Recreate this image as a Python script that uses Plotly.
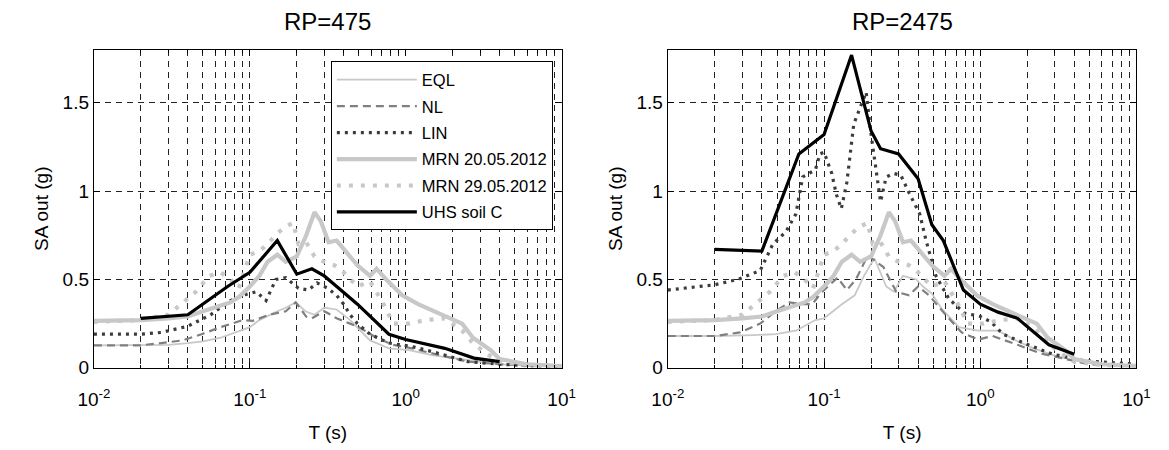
import plotly.graph_objects as go

# ---------------- data ----------------
# Recorded spectra (same in both panels)
mrn20_T = [0.01, 0.02, 0.03, 0.04, 0.05, 0.065, 0.075, 0.085, 0.1, 0.115, 0.13, 0.15, 0.17, 0.2, 0.23,
           0.26, 0.285, 0.32, 0.36, 0.42, 0.49, 0.59, 0.65, 0.75, 0.95, 1.2, 1.7, 2.3, 2.7, 3.5, 4.0, 6, 10]
mrn20_SA = [0.265, 0.27, 0.28, 0.29, 0.32, 0.35, 0.37, 0.40, 0.46, 0.52, 0.60, 0.64, 0.60, 0.63, 0.75,
            0.88, 0.83, 0.71, 0.72, 0.65, 0.58, 0.52, 0.56, 0.50, 0.41, 0.36, 0.30, 0.25, 0.17, 0.10, 0.05, 0.02, 0.01]

mrn29_T = [0.01, 0.02, 0.03, 0.035, 0.045, 0.055, 0.065, 0.075, 0.085, 0.1, 0.115, 0.13, 0.15, 0.17, 0.19,
           0.205, 0.23, 0.26, 0.3, 0.35, 0.4, 0.49, 0.59, 0.72, 0.83, 1.05, 1.33, 1.78, 2.3, 2.7, 3.3, 4.0, 6, 10]
mrn29_SA = [0.26, 0.27, 0.30, 0.35, 0.43, 0.52, 0.54, 0.50, 0.45, 0.64, 0.66, 0.70, 0.76, 0.80, 0.82,
            0.70, 0.71, 0.63, 0.60, 0.58, 0.54, 0.46, 0.49, 0.36, 0.25, 0.25, 0.27, 0.28, 0.21, 0.14, 0.08, 0.035, 0.015, 0.01]

# RP = 475
eql475_T = [0.01, 0.02, 0.03, 0.04, 0.05, 0.065, 0.08, 0.1, 0.115, 0.133, 0.15, 0.17, 0.197, 0.227,
            0.26, 0.3, 0.36, 0.44, 0.5, 0.59, 0.78, 1.05, 1.5, 2.5, 4.0, 6, 10]
eql475_SA = [0.127, 0.127, 0.13, 0.14, 0.15, 0.17, 0.20, 0.23, 0.27, 0.30, 0.32, 0.34, 0.37, 0.32,
             0.30, 0.34, 0.33, 0.27, 0.22, 0.155, 0.11, 0.10, 0.07, 0.045, 0.02, 0.012, 0.008]

nl475_T = [0.01, 0.02, 0.027, 0.037, 0.049, 0.065, 0.09, 0.104, 0.133, 0.17, 0.197, 0.23, 0.25, 0.3,
           0.33, 0.36, 0.44, 0.5, 0.65, 0.83, 1.1, 1.5, 2.5, 4, 6, 10]
nl475_SA = [0.127, 0.127, 0.14, 0.155, 0.19, 0.23, 0.27, 0.265, 0.30, 0.32, 0.37, 0.29, 0.28, 0.32,
            0.30, 0.28, 0.25, 0.23, 0.17, 0.13, 0.11, 0.08, 0.035, 0.02, 0.012, 0.008]

lin475_T = [0.01, 0.02, 0.027, 0.04, 0.056, 0.075, 0.09, 0.11, 0.127, 0.147, 0.17, 0.205, 0.237, 0.27,
            0.316, 0.36, 0.4, 0.44, 0.49, 0.59, 0.78, 1.1, 1.5, 2.5, 4, 6, 10]
lin475_SA = [0.19, 0.19, 0.2, 0.235, 0.30, 0.38, 0.41, 0.43, 0.38, 0.50, 0.51, 0.45, 0.44, 0.48,
             0.45, 0.41, 0.36, 0.30, 0.25, 0.19, 0.14, 0.12, 0.09, 0.035, 0.02, 0.012, 0.008]

uhs475_T = [0.02, 0.04, 0.072, 0.1, 0.15, 0.2, 0.25, 0.3, 0.35, 0.49, 0.78, 1.0, 1.78, 2.74, 4.0]
uhs475_SA = [0.28, 0.30, 0.46, 0.54, 0.72, 0.53, 0.56, 0.52, 0.47, 0.36, 0.19, 0.16, 0.11, 0.055, 0.035]

# RP = 2475
eql2475_T = [0.01, 0.02, 0.035, 0.049, 0.066, 0.079, 0.088, 0.1, 0.13, 0.157, 0.18, 0.21, 0.25, 0.28,
             0.32, 0.39, 0.43, 0.49, 0.57, 0.73, 0.97, 1.3, 1.73, 2.2, 3.1, 4.1, 6, 10]
eql2475_SA = [0.18, 0.18, 0.185, 0.19, 0.21, 0.25, 0.27, 0.28, 0.36, 0.41, 0.52, 0.62, 0.46, 0.43,
              0.52, 0.50, 0.46, 0.42, 0.33, 0.23, 0.21, 0.21, 0.15, 0.11, 0.065, 0.04, 0.02, 0.01]

nl2475_T = [0.01, 0.02, 0.029, 0.039, 0.049, 0.06, 0.073, 0.084, 0.097, 0.122, 0.14, 0.16, 0.19, 0.24,
            0.29, 0.35, 0.40, 0.47, 0.6, 0.76, 0.97, 1.2, 1.73, 2.4, 3.5, 5, 10]
nl2475_SA = [0.18, 0.18, 0.20, 0.25, 0.32, 0.37, 0.36, 0.36, 0.43, 0.51, 0.44, 0.50, 0.635, 0.57,
             0.43, 0.41, 0.46, 0.41, 0.30, 0.20, 0.16, 0.18, 0.13, 0.083, 0.05, 0.02, 0.01]

lin2475_T = [0.01, 0.02, 0.028, 0.039, 0.047, 0.057, 0.066, 0.073, 0.088, 0.094, 0.1, 0.112, 0.12, 0.129,
             0.14, 0.155, 0.186, 0.2, 0.23, 0.25, 0.28, 0.31, 0.35, 0.41, 0.45, 0.52, 0.63, 0.79, 1.0,
             1.17, 1.4, 1.9, 2.9, 4.6, 10]
lin2475_SA = [0.44, 0.47, 0.50, 0.55, 0.70, 0.77, 0.87, 1.08, 1.12, 1.21, 1.22, 1.10, 0.98, 0.90,
              1.05, 1.38, 1.56, 1.32, 0.94, 1.08, 1.10, 1.09, 0.99, 0.87, 0.72, 0.52, 0.39, 0.31, 0.29,
              0.26, 0.19, 0.14, 0.077, 0.04, 0.02]

uhs2475_T = [0.02, 0.04, 0.069, 0.1, 0.15, 0.2, 0.23, 0.3, 0.4, 0.49, 0.58, 0.78, 1.0, 1.3, 1.73, 2.75, 4.0]
uhs2475_SA = [0.67, 0.66, 1.21, 1.32, 1.77, 1.34, 1.24, 1.21, 1.07, 0.81, 0.72, 0.44, 0.36, 0.315, 0.28, 0.13, 0.077]

panel_titles = ["RP=475", "RP=2475"]
series_names = ["EQL", "NL", "LIN", "MRN 20.05.2012", "MRN 29.05.2012", "UHS soil C"]
x_major = [0.01, 0.1, 1, 10]
x_major_text = ["10<sup>-2</sup>", "10<sup>-1</sup>", "10<sup>0</sup>", "10<sup>1</sup>"]
x_minor = [m * d for d in (0.01, 0.1, 1) for m in range(2, 10)]
y_ticks = [0, 0.5, 1, 1.5]
y_tick_text = ["0", "0.5", "1", "1.5"]

# ---------------- styles ----------------
FONT = "Liberation Sans, Arial, sans-serif"
styles = [
    dict(color="#c8c8c8", width=1.8, dash="solid"),
    dict(color="#808080", width=2.2, dash="8px,5px"),
    dict(color="#3c3c3c", width=3.2, dash="3px,5px"),
    dict(color="#c8c8c8", width=4.2, dash="solid"),
    dict(color="#c8c8c8", width=4.2, dash="4px,8px"),
    dict(color="#000000", width=3.2, dash="solid"),
]

panels = [
    [(eql475_T, eql475_SA), (nl475_T, nl475_SA), (lin475_T, lin475_SA),
     (mrn20_T, mrn20_SA), (mrn29_T, mrn29_SA), (uhs475_T, uhs475_SA)],
    [(eql2475_T, eql2475_SA), (nl2475_T, nl2475_SA), (lin2475_T, lin2475_SA),
     (mrn20_T, mrn20_SA), (mrn29_T, mrn29_SA), (uhs2475_T, uhs2475_SA)],
]

fig = go.Figure()
for p, data in enumerate(panels):
    xa = "x" if p == 0 else "x2"
    ya = "y" if p == 0 else "y2"
    for s, (T, SA) in enumerate(data):
        fig.add_trace(go.Scatter(
            x=T, y=SA, mode="lines", name=series_names[s],
            line=styles[s], xaxis=xa, yaxis=ya,
            showlegend=(p == 0), legendgroup=series_names[s],
            hoverinfo="skip",
        ))

W, H = 1169, 450
dom_x = [(80 / W, 560 / W), (669 / W, 1150 / W)]
dom_y = ((450 - 377) / H, (450 - 51) / H)

TICK_SIZE = 19
grid_dash = "6px,5px"
def xaxis(dom, anchor):
    return dict(
        domain=list(dom), anchor=anchor, type="log", range=[-2, 1],
        tickmode="array", tickvals=x_major, ticktext=x_major_text,
        ticks="inside", ticklen=6, tickwidth=1, tickcolor="black",
        showline=True, linecolor="black", linewidth=1.3, mirror="allticks",
        showgrid=True, gridcolor="#222", gridwidth=0.6, griddash=grid_dash,
        minor=dict(tickmode="array", tickvals=x_minor, ticks="inside", ticklen=3,
                   tickcolor="black", showgrid=True, gridcolor="#222", gridwidth=0.6,
                   griddash=grid_dash),
        zeroline=False, ticklabelstandoff=14,
        tickfont=dict(family=FONT, size=TICK_SIZE, color="black"),
        title=dict(text="T (s)", font=dict(family=FONT, size=TICK_SIZE, color="black"), standoff=16),
    )

def yaxis(dom, anchor):
    return dict(
        domain=list(dom), anchor=anchor, range=[0, 1.8],
        tickmode="array", tickvals=y_ticks, ticktext=y_tick_text,
        ticks="inside", ticklen=6, tickwidth=1, tickcolor="black",
        showline=True, linecolor="black", linewidth=1.3, mirror="allticks",
        showgrid=True, gridcolor="#222", gridwidth=0.6, griddash=grid_dash,
        zeroline=False,
        tickfont=dict(family=FONT, size=TICK_SIZE, color="black"),
        title=dict(text="SA out (g)", font=dict(family=FONT, size=TICK_SIZE, color="black"), standoff=8),
    )

fig.update_layout(
    width=W, height=H,
    margin=dict(l=0, r=0, t=0, b=0),
    paper_bgcolor="white", plot_bgcolor="white",
    font=dict(family=FONT, color="black"),
    xaxis=xaxis(dom_x[0], "y"), yaxis=yaxis(dom_y, "x"),
    xaxis2=xaxis(dom_x[1], "y2"), yaxis2=yaxis(dom_y, "x2"),
    legend=dict(
        x=551 / W, y=1 - 63 / H, xanchor="right", yanchor="top",
        bgcolor="white", bordercolor="black", borderwidth=1,
        font=dict(family=FONT, size=16.5, color="black"),
        itemwidth=80, tracegroupgap=2,
    ),
    annotations=[
        dict(text=panel_titles[i], x=(dom_x[i][0] + dom_x[i][1]) / 2, y=1 - 22 / H,
             xref="paper", yref="paper", showarrow=False, xanchor="center", yanchor="middle",
             font=dict(family=FONT, size=24, color="black"))
        for i in range(2)
    ],
)

fig.write_html("out.html")
